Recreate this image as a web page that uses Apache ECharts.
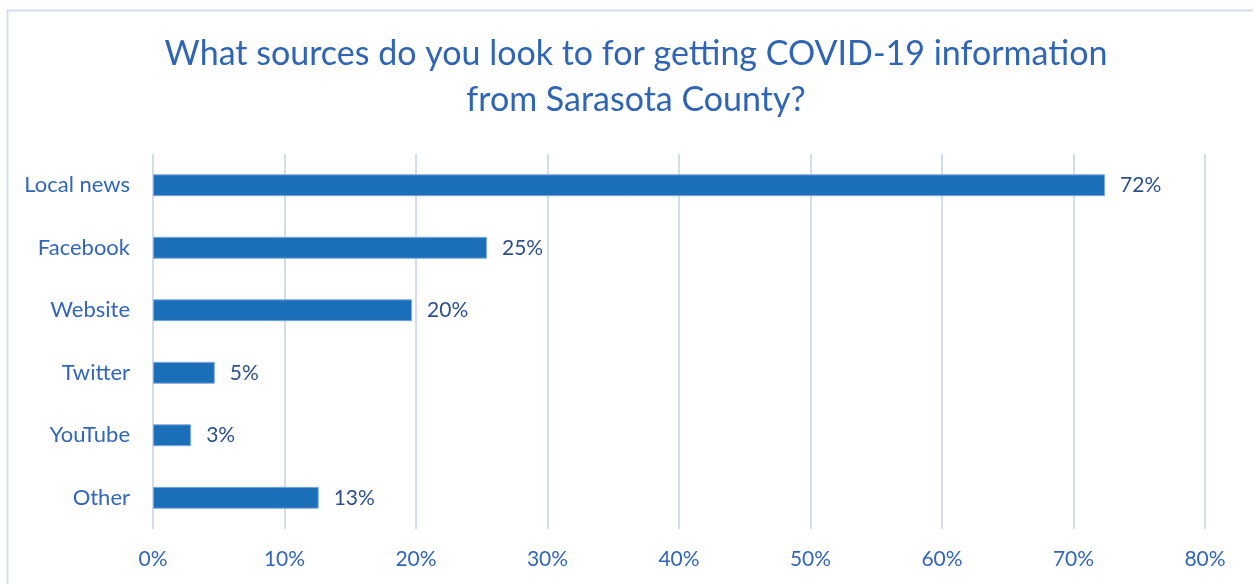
<!DOCTYPE html>
<html>
<head>
<meta charset="utf-8">
<script src="https://cdn.jsdelivr.net/npm/echarts@6/dist/echarts.min.js"></script>
<style>
html,body{margin:0;padding:0;background:#fff;}
#c{width:1253px;height:584px;}
</style>
</head>
<body>
<div id="c"></div>
<script>
var categories = ['Local news', 'Facebook', 'Website', 'Twitter', 'YouTube', 'Other'];
var values = [72.4, 25.4, 19.7, 4.7, 2.9, 12.6];
var xTicks = [0, 10, 20, 30, 40, 50, 60, 70, 80];

var chart = echarts.init(document.getElementById('c'));
var font = 'Lato, "Open Sans", sans-serif';
chart.setOption({
  animation: false,
  backgroundColor: '#ffffff',
  graphic: [{
    type: 'rect',
    shape: {x: 7.5, y: 10.5, width: 1260, height: 600},
    style: {fill: 'none', stroke: '#d2ddf0', lineWidth: 2},
    silent: true
  }],
  title: {
    text: 'What sources do you look to for getting COVID-19 information\nfrom Sarasota County?',
    left: 631,
    textAlign: 'center',
    top: 26,
    textStyle: {fontFamily: font, fontSize: 34, fontWeight: 'normal', color: '#2f65b3', lineHeight: 46}
  },
  grid: {left: 153, right: 48, top: 154, bottom: 55, containLabel: false},
  xAxis: {
    type: 'value',
    min: xTicks[0],
    max: xTicks[xTicks.length - 1],
    interval: 10,
    axisLine: {show: false},
    axisTick: {show: false},
    splitLine: {show: true, lineStyle: {color: '#d4ddef', width: 2}},
    axisLabel: {
      margin: 20,
      fontFamily: font, fontSize: 21, color: '#3366b8',
      formatter: function (v) { return v + '%'; }
    }
  },
  yAxis: {
    type: 'category',
    data: categories,
    inverse: true,
    axisLine: {show: false},
    axisTick: {show: false},
    axisLabel: {margin: 23, fontFamily: font, fontSize: 22, color: '#3366b8'}
  },
  series: [{
    type: 'bar',
    data: values,
    barWidth: '35%',
    itemStyle: {color: '#1b6fb9', borderColor: '#7fa8dc', borderWidth: 1},
    label: {
      show: true,
      position: 'right',
      distance: 15,
      fontFamily: font, fontSize: 21, color: '#2d4f8e',
      formatter: function (p) { return Math.round(p.value) + '%'; }
    }
  }]
});
</script>
</body>
</html>
